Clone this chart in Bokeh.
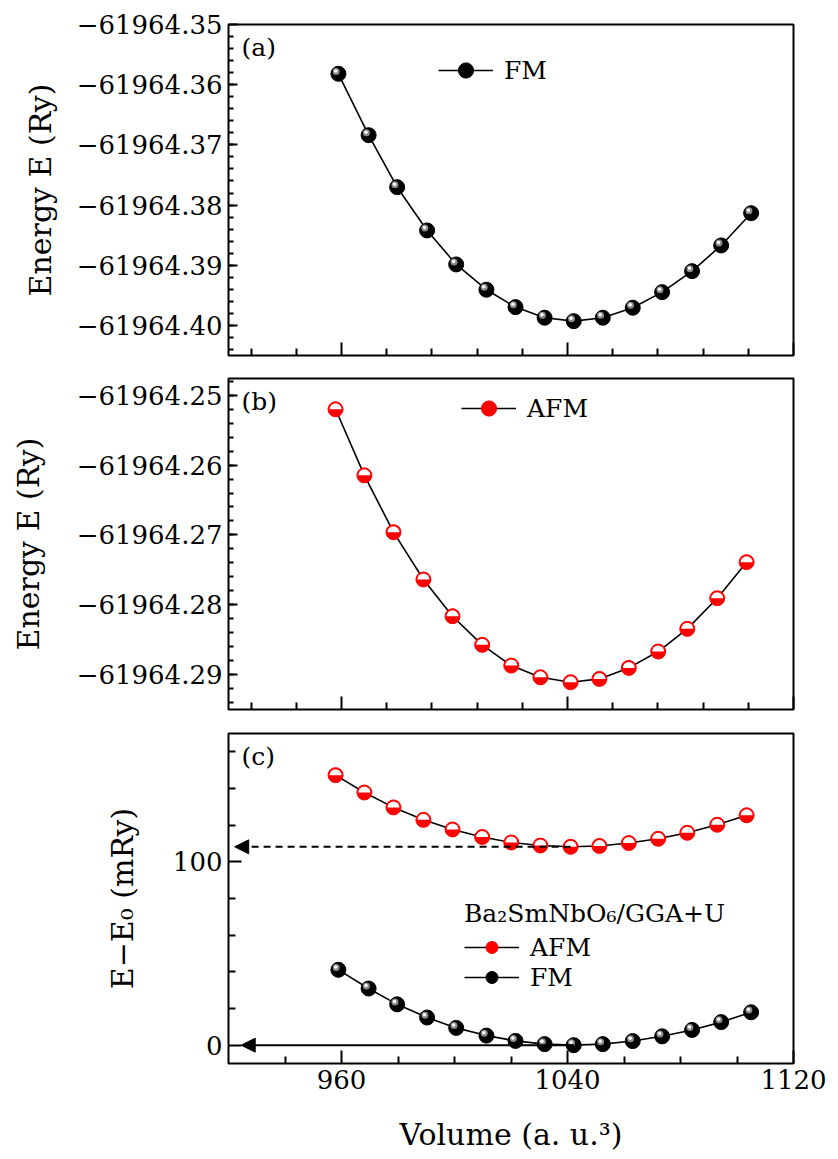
import numpy as np
from bokeh.plotting import figure
from bokeh.layouts import column
from bokeh.models import Range1d, FixedTicker, Legend, LegendItem, Label, Arrow, NormalHead
from bokeh.embed import file_html
from bokeh.resources import INLINE

FONT = "DejaVu Serif"

# ---------------- data ----------------
vol_fm = [958.9, 969.6, 979.7, 990.3, 1000.6, 1011.3, 1021.6, 1031.9,
          1042.2, 1052.5, 1063.1, 1073.5, 1084.1, 1094.4, 1105.0]
e_fm = [-61964.35819, -61964.36839, -61964.37703, -61964.38422, -61964.38987,
        -61964.39407, -61964.39696, -61964.39872, -61964.39929, -61964.39872,
        -61964.39706, -61964.39447, -61964.39098, -61964.38671, -61964.38135]
vol_afm = [957.9, 968.1, 978.4, 989.0, 999.3, 1009.8, 1020.1, 1030.4,
           1041.1, 1051.3, 1061.7, 1072.1, 1082.4, 1093.0, 1103.4]
e_afm = [-61964.25201, -61964.26147, -61964.26960, -61964.27638, -61964.28164,
         -61964.28574, -61964.28871, -61964.29039, -61964.29110, -61964.29062,
         -61964.28904, -61964.28670, -61964.28345, -61964.27906, -61964.27390]

# ticks and tick labels
x_major = [960, 1040, 1120]
x_labels = ["960", "1040", "1120"]
x_minor_ab = [928, 944, 976, 992, 1008, 1024, 1056, 1072, 1088, 1104]
x_minor_c = [940, 980, 1000, 1020, 1060, 1080, 1100]

ya_major = [-61964.40, -61964.39, -61964.38, -61964.37, -61964.36, -61964.35]
ya_labels = ["\u221261964.40", "\u221261964.39", "\u221261964.38",
             "\u221261964.37", "\u221261964.36", "\u221261964.35"]
yb_major = [-61964.29, -61964.28, -61964.27, -61964.26, -61964.25]
yb_labels = ["\u221261964.29", "\u221261964.28", "\u221261964.27",
             "\u221261964.26", "\u221261964.25"]
yc_major = [0, 100]
yc_labels = ["0", "100"]
yc_minor = [20, 40, 60, 80, 120, 140, 160]

# relative energies (mRy) with respect to the FM minimum
e0 = min(e_fm)
rel_fm = [(e - e0) * 1000.0 for e in e_fm]
rel_afm = [(e - e0) * 1000.0 for e in e_afm]

FW = 565
XR = (920, 1120)


def make_fig(yr, fh, top, bottom):
    p = figure(frame_width=FW, frame_height=fh,
               x_range=Range1d(*XR), y_range=Range1d(*yr),
               min_border_left=228, min_border_right=45,
               min_border_top=top, min_border_bottom=bottom,
               output_backend="svg", toolbar_location=None,
               background_fill_color="white", border_fill_color="white")
    p.grid.visible = False
    p.outline_line_color = "black"
    p.outline_line_width = 2
    for ax in (p.xaxis[0], p.yaxis[0]):
        ax.axis_line_color = None
        ax.major_tick_out = 0
        ax.minor_tick_out = 0
        ax.major_tick_line_width = 2
        ax.minor_tick_line_width = 2
        ax.major_label_text_font = FONT
        ax.major_label_text_font_size = "26px"
        ax.major_label_text_color = "black"
        ax.axis_label_text_font = FONT
        ax.axis_label_text_font_size = "30px"
        ax.axis_label_text_font_style = "normal"
        ax.axis_label_text_color = "black"
    return p


def hide_x_labels(p):
    p.xaxis.major_label_overrides = {v: "" for v in x_major}
    p.xaxis.major_label_text_font_size = "1px"
    p.xaxis.major_label_standoff = 0


def fm_marks(p, xs, ys, yr, fh):
    lr = p.line(xs, ys, line_color="black", line_width=1.6)
    sr = p.scatter(xs, ys, size=15, fill_color="black", line_color="black")
    dx = (XR[1] - XR[0]) / FW
    dy = (yr[1] - yr[0]) / fh
    p.scatter([x - 2.2 * dx for x in xs], [y + 2.4 * dy for y in ys],
              size=7, fill_color="#8a8a8a", line_color=None)
    p.scatter([x - 2.6 * dx for x in xs], [y + 2.9 * dy for y in ys],
              size=3.5, fill_color="white", line_color=None)
    return lr, sr


def afm_marks(p, xs, ys):
    lr = p.line(xs, ys, line_color="black", line_width=1.6)
    sr = p.scatter(xs, ys, size=15, fill_color="red", line_color="red", line_width=1)
    p.wedge(xs, ys, radius=6, radius_units="screen", start_angle=0,
            end_angle=np.pi, fill_color="white", line_color=None)
    return lr, sr


def style_legend(leg):
    leg.border_line_color = None
    leg.background_fill_alpha = 0
    leg.padding = 0
    leg.margin = 0
    leg.glyph_width = 55
    leg.label_standoff = 11
    leg.label_text_font = FONT
    leg.label_text_font_size = "25px"
    leg.label_text_color = "black"


def panel_label(p, txt, yr):
    p.add_layout(Label(x=XR[0], y=yr[1], text=txt, x_offset=13, y_offset=-8,
                       text_baseline="top", text_align="left",
                       text_font=FONT, text_font_size="25px", text_color="black"))


# ---------------- panel (a) ----------------
yr_a = (-61964.405, -61964.35)
p1 = make_fig(yr_a, 331, 24, 12)
p1.xaxis.ticker = FixedTicker(ticks=x_major, minor_ticks=x_minor_ab)
p1.xaxis.major_tick_in = 13
p1.xaxis.minor_tick_in = 7
hide_x_labels(p1)
p1.yaxis.ticker = FixedTicker(ticks=ya_major,
                              minor_ticks=list(np.arange(-61964.404, -61964.3505, 0.002)))
p1.yaxis.major_label_overrides = dict(zip(ya_major, ya_labels))
p1.yaxis.major_tick_in = 9
p1.yaxis.minor_tick_in = 5
p1.yaxis.major_label_standoff = 6
p1.yaxis.axis_label = "Energy E (Ry)"
p1.yaxis.axis_label_standoff = 16
lr, sr = fm_marks(p1, vol_fm, e_fm, yr_a, 331)
leg1 = Legend(items=[LegendItem(label="FM", renderers=[lr, sr])], location=(210, 266))
style_legend(leg1)
leg1.glyph_height = 38
p1.add_layout(leg1)
panel_label(p1, "(a)", yr_a)

# ---------------- panel (b) ----------------
yr_b = (-61964.295, -61964.2476)
p2 = make_fig(yr_b, 331, 11, 12)
p2.xaxis.ticker = FixedTicker(ticks=x_major, minor_ticks=x_minor_ab)
p2.xaxis.major_tick_in = 13
p2.xaxis.minor_tick_in = 7
hide_x_labels(p2)
p2.yaxis.ticker = FixedTicker(ticks=yb_major,
                              minor_ticks=list(np.arange(-61964.294, -61964.2475, 0.002)))
p2.yaxis.major_label_overrides = dict(zip(yb_major, yb_labels))
p2.yaxis.major_tick_in = 9
p2.yaxis.minor_tick_in = 5
p2.yaxis.major_label_standoff = 6
p2.yaxis.axis_label = "Energy E (Ry)"
p2.yaxis.axis_label_standoff = 28
lr, sr = afm_marks(p2, vol_afm, e_afm)
leg2 = Legend(items=[LegendItem(label="AFM", renderers=[lr, sr])], location=(233, 282))
style_legend(leg2)
leg2.glyph_height = 38
p2.add_layout(leg2)
panel_label(p2, "(b)", yr_b)

# ---------------- panel (c) ----------------
yr_c = (-10, 170)
p3 = make_fig(yr_c, 330, 12, 96)
p3.xaxis.ticker = FixedTicker(ticks=x_major, minor_ticks=x_minor_c)
p3.xaxis.major_label_overrides = dict(zip(x_major, x_labels))
p3.xaxis.major_tick_in = 13
p3.xaxis.minor_tick_in = 7
p3.xaxis.major_label_standoff = 6
p3.xaxis.axis_label = "Volume (a. u.\u00b3)"
p3.xaxis.axis_label_standoff = 25
p3.yaxis.ticker = FixedTicker(ticks=yc_major, minor_ticks=yc_minor)
p3.yaxis.major_label_overrides = dict(zip(yc_major, yc_labels))
p3.yaxis.major_tick_in = 13
p3.yaxis.minor_tick_in = 7
p3.yaxis.major_label_standoff = 6
p3.yaxis.axis_label = "E\u2212E\u2080 (mRy)"
p3.yaxis.axis_label_standoff = 30

i_fm = int(np.argmin(rel_fm))
i_afm = int(np.argmin(rel_afm))
p3.add_layout(Arrow(end=NormalHead(size=14, fill_color="black", line_color="black"),
                    x_start=vol_fm[i_fm], y_start=rel_fm[i_fm],
                    x_end=XR[0] + 4.5, y_end=rel_fm[i_fm],
                    line_color="black", line_width=2))
p3.add_layout(Arrow(end=NormalHead(size=14, fill_color="black", line_color="black"),
                    x_start=vol_afm[i_afm], y_start=rel_afm[i_afm],
                    x_end=XR[0] + 2.2, y_end=rel_afm[i_afm],
                    line_color="black", line_width=2, line_dash="7 5"))

lr_a, sr_a = afm_marks(p3, vol_afm, rel_afm)
lr_f, sr_f = fm_marks(p3, vol_fm, rel_fm, yr_c, 330)
leg3 = Legend(items=[LegendItem(label="AFM", renderers=[lr_a, sr_a]),
                     LegendItem(label="FM", renderers=[lr_f, sr_f])],
              location=(236, 71), title="Ba\u2082SmNbO\u2086/GGA+U")
style_legend(leg3)
leg3.glyph_height = 30
leg3.label_height = 29
leg3.spacing = 0
leg3.title_text_font = FONT
leg3.title_text_font_size = "25px"
leg3.title_text_font_style = "normal"
leg3.title_text_color = "black"
leg3.title_standoff = 4
p3.add_layout(leg3)
panel_label(p3, "(c)", yr_c)

layout = column(p1, p2, p3, spacing=0)
open("out.html", "w").write(file_html(layout, INLINE))
